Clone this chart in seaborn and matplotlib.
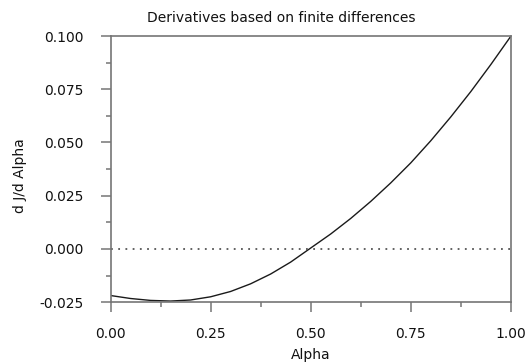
import matplotlib
matplotlib.use("Agg")
import matplotlib.pyplot as plt
from matplotlib.ticker import MultipleLocator
import seaborn as sns
import pandas as pd

alpha = [0.00, 0.05, 0.10, 0.15, 0.20, 0.25, 0.30, 0.35, 0.40, 0.45, 0.50,
         0.55, 0.60, 0.65, 0.70, 0.75, 0.80, 0.85, 0.90, 0.95, 1.00]
djda = [-0.0219, -0.0233, -0.0242, -0.0245, -0.0240, -0.0225, -0.0200, -0.0164,
        -0.0118, -0.0062, 0.0004, 0.0070, 0.0143, 0.0223, 0.0310, 0.0404,
        0.0508, 0.0620, 0.0739, 0.0866, 0.0999]
xticks = [0.0, 0.25, 0.5, 0.75, 1.0]
yticks = [-0.025, 0.0, 0.025, 0.05, 0.075, 0.1]
zero_line_x = [0.0, 1.0]
zero_line_y = [0.0, 0.0]

sns.set_theme(style="white")
plt.rcParams['font.family'] = ['DejaVu Sans']
plt.rcParams['axes.unicode_minus'] = False

df = pd.DataFrame({"Alpha": alpha, "dJ": djda})
fig = plt.figure(figsize=(5.25, 3.64), dpi=100)
ax = fig.add_axes([0.2105, 0.170, 0.7625, 0.731])

axcol = "#757575"
txtcol = "#111111"
fs = 10
sns.lineplot(data=df, x="Alpha", y="dJ", ax=ax, color="#1a1a1a", linewidth=1.0)
ax.plot(zero_line_x, zero_line_y, linestyle=(0, (1, 3)), color="#555555", linewidth=1.3)

ax.set_xlim(0, 1)
ax.set_ylim(-0.025, 0.1)
ax.set_xticks(xticks)
ax.set_yticks(yticks)
ax.set_xticklabels([f"{v:.2f}" for v in xticks])
ax.set_yticklabels([f"{v:.3f}" for v in yticks])
ax.xaxis.set_minor_locator(MultipleLocator(0.125))
ax.yaxis.set_minor_locator(MultipleLocator(0.0125))
ax.tick_params(which="major", direction="out", length=7.2, width=1.1, color=axcol,
               labelsize=fs, labelcolor=txtcol)
ax.tick_params(axis="y", which="major", pad=12)
ax.tick_params(axis="x", which="major", pad=11)
ax.tick_params(which="minor", direction="out", length=3.6, width=1.1, color=axcol)
ax.tick_params(axis="x", which="both", bottom=True, top=False)
ax.tick_params(axis="y", which="both", left=True, right=False)
for s in ax.spines.values():
    s.set_color(axcol)
    s.set_linewidth(1.2)
    s.set_visible(True)

fig.text(281 / 525, 1 - 18 / 364, "Derivatives based on finite differences",
         fontsize=fs, color=txtcol, ha="center", va="center")
ax.set_xlabel("Alpha", fontsize=fs, color=txtcol, labelpad=5)
ax.set_ylabel("d J/d Alpha", fontsize=fs, color=txtcol, labelpad=9)
ax.yaxis.label.set_y(0.474)

fig.savefig("out.png", dpi=100)
